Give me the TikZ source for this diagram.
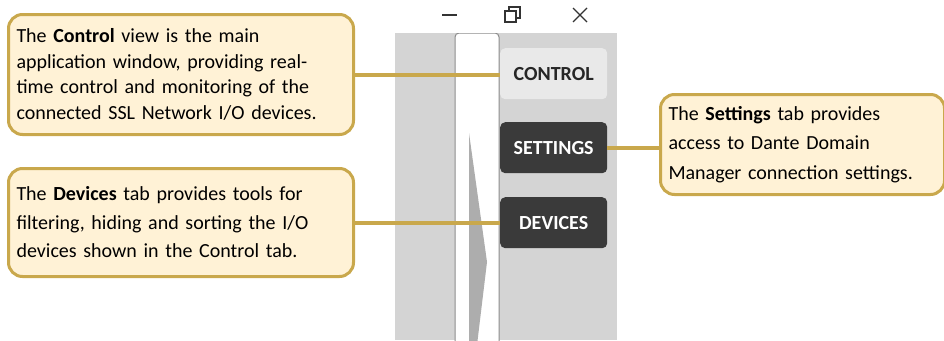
\documentclass[tikz,border=0pt]{standalone}
\usepackage{fontspec}
\setmainfont{Carlito}
\definecolor{gold}{RGB}{201,168,76}
\definecolor{cream}{RGB}{255,242,214}
\definecolor{panelgray}{RGB}{212,212,212}
\definecolor{tabdark}{RGB}{58,58,58}
\definecolor{tablight}{RGB}{233,233,233}
\tikzset{
  callout/.style={draw=gold, line width=3pt, fill=cream, rounded corners=14pt,
    anchor=north west, inner xsep=8pt, inner ysep=0pt, align=left, text=black},
  conn/.style={draw=gold, line width=4pt},
  tabbox/.style={rounded corners=5pt, minimum width=107pt, minimum height=51pt,
    anchor=north west, font=\fontsize{20}{22}\selectfont\bfseries},
  icon/.style={draw=black!80, line width=1.2pt}
}
\begin{document}
\begin{tikzpicture}[x=1pt,y=-1pt]
\useasboundingbox (0,0) rectangle (944,340);
% window panel
\fill[panelgray] (395,33) rectangle (617,340);
% title bar icons
\draw[icon] (442,15) -- (457,15);
\draw[icon] (509,10) -- (509,7) -- (520,7) -- (520,18) -- (516,18);
\draw[icon] (505,11) rectangle (516,22);
\draw[icon] (573,8) -- (587,22) (587,8) -- (573,22);
% slider
\begin{scope}
\clip (395,33) rectangle (617,340);
\draw[draw=black!45, line width=1pt, fill=white, rounded corners=4pt] (455,33) rectangle (499,360);
\fill[black!32] (469,133) -- (487,262) -- (477,345) -- (469,345) -- cycle;
\end{scope}
% tabs
\node[tabbox, fill=tablight, text=black!85] (ctrl) at (500,48) {CONTROL};
\node[tabbox, fill=tabdark, text=white] (sett) at (500,122) {SETTINGS};
\node[tabbox, fill=tabdark, text=white] (dev) at (500,197) {DEVICES};
% callouts
\node[callout, minimum width=345pt, minimum height=120pt, text width=329pt,
  font=\fontsize{20}{25.5}\selectfont] (c1) at (7,13)
  {The \textbf{Control} view is the main\\application window, providing real-\\time control and monitoring of the\\connected SSL Network I/O devices.};
\node[callout, minimum width=345pt, minimum height=108pt, text width=329pt,
  font=\fontsize{20}{28.5}\selectfont] (c2) at (7,167)
  {The \textbf{Devices} tab provides tools for\\filtering, hiding and sorting the I/O\\devices shown in the Control tab.};
\node[callout, minimum width=284pt, minimum height=100pt, text width=268pt,
  font=\fontsize{20}{29.5}\selectfont] (c3) at (659,93)
  {The \textbf{Settings} tab provides\\access to Dante Domain\\Manager connection settings.};
% connectors
\draw[conn] (c1.east) -- (c1.east -| ctrl.west);
\draw[conn] (c2.east) -- (c2.east -| dev.west);
\draw[conn] (sett.east) -- (sett.east -| c3.west);
\end{tikzpicture}
\end{document}
